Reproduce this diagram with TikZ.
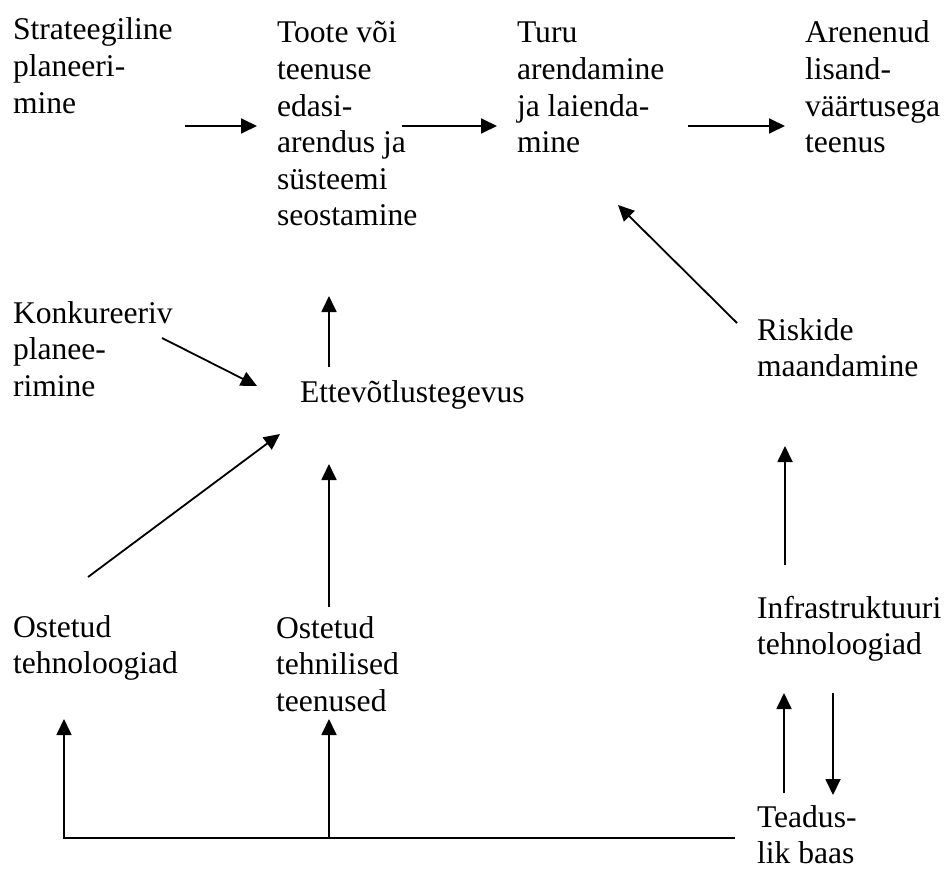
\documentclass[tikz,border=0pt]{standalone}
\usepackage{fontspec}
\setmainfont{Liberation Serif}
\usetikzlibrary{arrows.meta}

% Stacked, left-aligned label whose base anchor is the first line's baseline
\newcommand{\stk}[1]{\begin{tabular}[t]{@{}l@{}}#1\end{tabular}}

\begin{document}
\begin{tikzpicture}[x=1pt,y=1pt,
  lbl/.style={anchor=base west,inner sep=0pt,outer sep=0pt,
    font=\fontsize{31.6}{36.6}\selectfont},
  arr/.style={line width=1.8pt,-{Triangle[length=16pt,width=15pt]}},
  plain/.style={line width=1.8pt}]
\useasboundingbox (0,0) rectangle (945,-872);

% labels
\node[lbl] (strat) at (13,-40)  {\stk{Strateegiline\\planeeri-\\mine}};
\node[lbl] (toote) at (277,-43) {\stk{Toote või\\teenuse\\edasi-\\arendus ja\\süsteemi\\seostamine}};
\node[lbl] (turu)  at (517,-43) {\stk{Turu\\arendamine\\ja laienda-\\mine}};
\node[lbl] (aren)  at (805,-43) {\stk{Arenenud\\lisand-\\väärtusega\\teenus}};
\node[lbl] (konk)  at (13,-323) {\stk{Konkureeriv\\planee-\\rimine}};
\node[lbl] (ettev) at (300,-402) {Ettevõtlustegevus};
\node[lbl] (risk)  at (757,-340) {\stk{Riskide\\maandamine}};
\node[lbl] (ost1)  at (13,-637) {\stk{Ostetud\\tehnoloogiad}};
\node[lbl] (ost2)  at (276,-638) {\stk{Ostetud\\tehnilised\\teenused}};
\node[lbl] (infra) at (757,-618) {\stk{Infrastruktuuri\\tehnoloogiad}};
\node[lbl] (tead)  at (757,-827) {\stk{Teadus-\\lik baas}};

% arrow end points (the arrows float in the gaps between labels)
\coordinate (strat-o) at (185,-126);  \coordinate (toote-i) at (257,-126);
\coordinate (toote-o) at (402,-126);  \coordinate (turu-i)  at (497,-126);
\coordinate (turu-o)  at (688,-126);  \coordinate (aren-i)  at (785,-126);
\coordinate (risk-o)  at (737,-323);  \coordinate (turu-b)  at (618,-205);
\coordinate (konk-o)  at (162,-338);  \coordinate (ettev-l) at (257,-386);
\coordinate (ettev-o) at (329,-367);  \coordinate (toote-b) at (329,-296);
\coordinate (ost1-o)  at (88,-577);   \coordinate (ettev-d) at (280,-434);
\coordinate (ost2-o)  at (329,-607);  \coordinate (ettev-b) at (329,-464);
\coordinate (infra-o) at (785,-565);  \coordinate (risk-b)  at (785,-446);
\coordinate (tead-o)  at (784,-793);  \coordinate (infra-b) at (784,-693);
\coordinate (infra-d) at (833,-693);  \coordinate (tead-t)  at (833,-795);
\coordinate (tead-l)  at (735,-838);  \coordinate (ost1-b)  at (64,-719);
\coordinate (split)   at (329,-838);  \coordinate (ost2-b)  at (329,-719);

% top row
\draw[arr] (strat-o) -- (toote-i);
\draw[arr] (toote-o) -- (turu-i);
\draw[arr] (turu-o) -- (aren-i);
\draw[arr] (risk-o) -- (turu-b);

% middle
\draw[arr] (konk-o) -- (ettev-l);
\draw[arr] (ettev-o) -- (toote-b);
\draw[arr] (ost1-o) -- (ettev-d);
\draw[arr] (ost2-o) -- (ettev-b);
\draw[arr] (infra-o) -- (risk-b);

% research base feeding upward
\draw[arr] (tead-o) -- (infra-b);
\draw[arr] (infra-d) -- (tead-t);
\draw[arr] (tead-l) -| (ost1-b);
\draw[arr] (split) -- (ost2-b);
\end{tikzpicture}
\end{document}
